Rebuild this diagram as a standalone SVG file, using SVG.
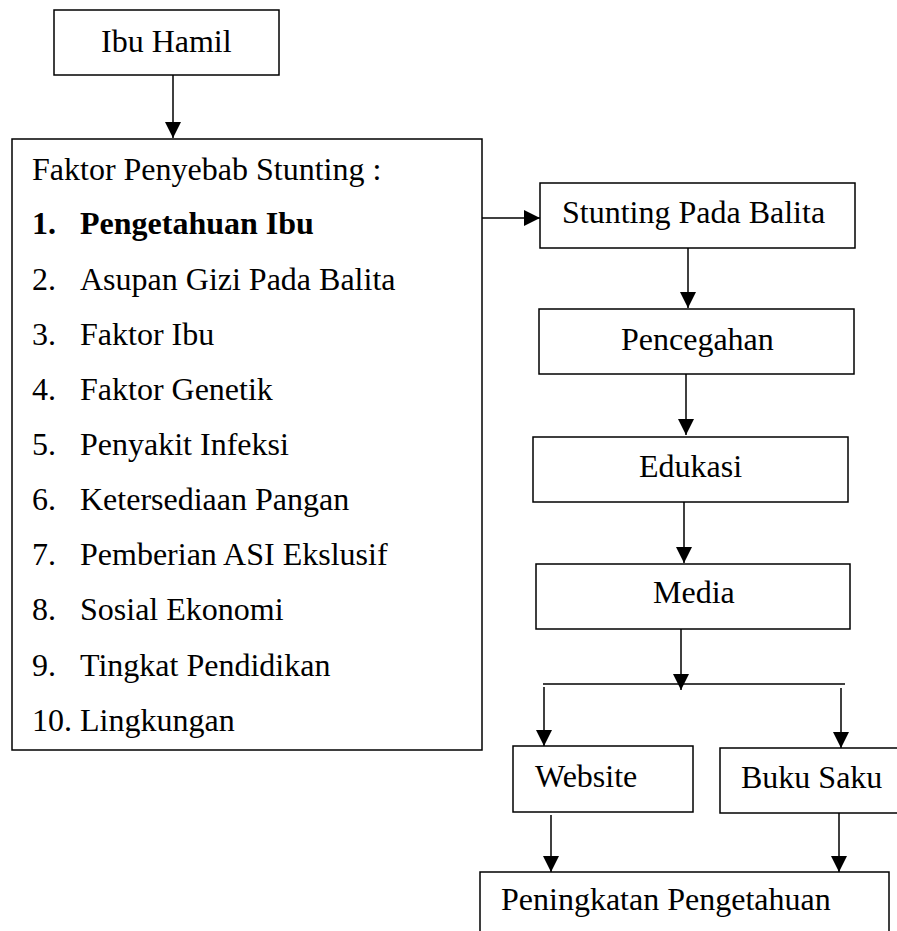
<svg xmlns="http://www.w3.org/2000/svg" width="897" height="931" viewBox="0 0 897 931">
<style>
.box{fill:#fff;stroke:#000;stroke-width:1.5}
.t{font-family:"Liberation Serif","Times New Roman",serif;font-size:32px;fill:#000}
.b{font-weight:bold}
.c{fill:none;stroke:#000;stroke-width:1.5}
</style>
<defs>
<marker id="ah" markerUnits="userSpaceOnUse" markerWidth="16" markerHeight="16" viewBox="0 0 16 16" refX="16" refY="8" orient="auto">
<path d="M0,0 L16,8 L0,16 Z" fill="#000"/>
</marker>
</defs>
<rect width="897" height="931" fill="#fff"/>
<g id="connectors">
<line class="c" x1="173" y1="75" x2="173" y2="138" marker-end="url(#ah)"/>
<line class="c" x1="482" y1="218" x2="540" y2="218" marker-end="url(#ah)"/>
<line class="c" x1="688" y1="248" x2="688" y2="308" marker-end="url(#ah)"/>
<line class="c" x1="686" y1="374" x2="686" y2="435" marker-end="url(#ah)"/>
<line class="c" x1="684" y1="502" x2="684" y2="563" marker-end="url(#ah)"/>
<line class="c" x1="681" y1="629" x2="681" y2="690" marker-end="url(#ah)"/>
<line class="c" x1="543" y1="684" x2="845" y2="684"/>
<line class="c" x1="544" y1="687" x2="544" y2="746" marker-end="url(#ah)"/>
<line class="c" x1="841" y1="688" x2="841" y2="748" marker-end="url(#ah)"/>
<line class="c" x1="551" y1="815" x2="551" y2="872" marker-end="url(#ah)"/>
<line class="c" x1="839" y1="813" x2="839" y2="872" marker-end="url(#ah)"/>
</g>
<g id="ibu-hamil">
<rect class="box" x="54" y="10" width="225" height="65"/>
<text class="t" x="101" y="52">Ibu Hamil</text>
</g>
<g id="faktor">
<rect class="box" x="12" y="139" width="470" height="611"/>
<text class="t" x="32" y="180">Faktor Penyebab Stunting :</text>
<text class="t b" x="32" y="234">1.</text><text class="t b" x="80" y="234">Pengetahuan Ibu</text>
<text class="t" x="32" y="290">2.</text><text class="t" x="80" y="290">Asupan Gizi Pada Balita</text>
<text class="t" x="32" y="345">3.</text><text class="t" x="80" y="345">Faktor Ibu</text>
<text class="t" x="32" y="400">4.</text><text class="t" x="80" y="400">Faktor Genetik</text>
<text class="t" x="32" y="455">5.</text><text class="t" x="80" y="455">Penyakit Infeksi</text>
<text class="t" x="32" y="510">6.</text><text class="t" x="80" y="510">Ketersediaan Pangan</text>
<text class="t" x="32" y="565">7.</text><text class="t" x="80" y="565">Pemberian ASI Ekslusif</text>
<text class="t" x="32" y="620">8.</text><text class="t" x="80" y="620">Sosial Ekonomi</text>
<text class="t" x="32" y="676">9.</text><text class="t" x="80" y="676">Tingkat Pendidikan</text>
<text class="t" x="32" y="731">10. Lingkungan</text>
</g>
<g id="stunting">
<rect class="box" x="540" y="183" width="315" height="65"/>
<text class="t" x="562" y="223">Stunting Pada Balita</text>
</g>
<g id="pencegahan">
<rect class="box" x="539" y="309" width="315" height="65"/>
<text class="t" x="621" y="350">Pencegahan</text>
</g>
<g id="edukasi">
<rect class="box" x="533" y="437" width="315" height="65"/>
<text class="t" x="639" y="477">Edukasi</text>
</g>
<g id="media">
<rect class="box" x="536" y="564" width="314" height="65"/>
<text class="t" x="653" y="603">Media</text>
</g>
<g id="website">
<rect class="box" x="513" y="746" width="180" height="66"/>
<text class="t" x="535" y="787">Website</text>
</g>
<g id="buku-saku">
<rect class="box" x="720" y="748" width="200" height="65"/>
<text class="t" x="741" y="788">Buku Saku</text>
</g>
<g id="peningkatan">
<rect class="box" x="480" y="872" width="409" height="80"/>
<text class="t" x="501" y="910">Peningkatan Pengetahuan</text>
</g>
</svg>
